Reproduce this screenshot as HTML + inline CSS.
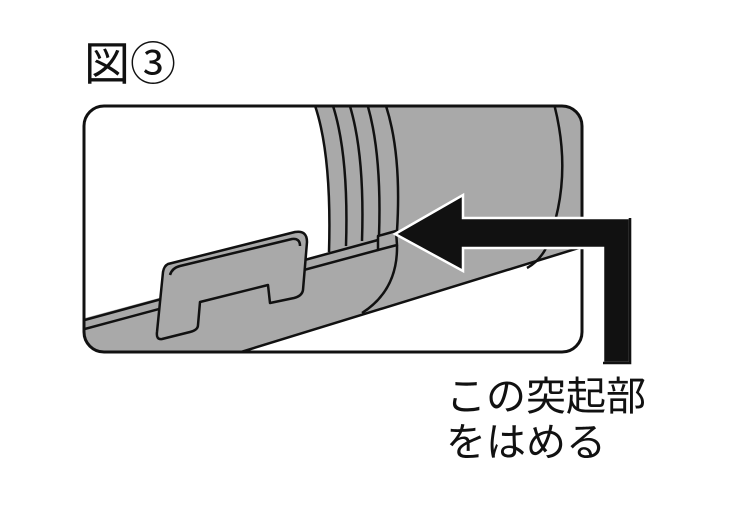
<!DOCTYPE html>
<html><head><meta charset="utf-8"><style>
html,body{margin:0;padding:0;background:#fff;width:735px;height:509px;overflow:hidden}
</style></head><body>
<svg width="735" height="509" viewBox="0 0 735 509" xmlns="http://www.w3.org/2000/svg">
<defs><clipPath id="c"><rect x="84" y="106" width="498" height="246" rx="20"/></clipPath></defs>
<g clip-path="url(#c)" stroke="#111" stroke-width="2.5" stroke-linejoin="round" fill="none">
  <path d="M313 100 Q332 150 329 252 L70 322 L70 365 L215 360 L582 247 L600 241 L600 100 Z" fill="#a9a9a9" stroke="none"/>
  <path d="M313 100 Q332 150 329 252"/>
  <path d="M331 100 Q349 150 346 246"/>
  <path d="M348 100 Q365 150 362 241"/>
  <path d="M366 100 Q382 150 379 236"/>
  <path d="M384 100 Q402 150 397 231"/>
  <path d="M553 100 Q575 180 545 250 Q538 262 527 268"/>
  <path d="M70 324 L378 240"/>
  <path d="M70 333 L378 250"/>
  <path d="M378 236 L378 250 L397 245 L396 231 Z" fill="#a9a9a9"/>
  <path d="M397 245 Q398 290 362 313"/>
  <path d="M215 360 L582 247"/>
  <path d="M168 264 L295 232 Q307 230 307 242 L303 290 Q302 296 294 298 L270 303 L268 285 L200 302 L198 325 Q198 330 190 332 L162 339 Q156 340 157 332 L163 272 Q164 266 168 264 Z" fill="#a9a9a9"/>
  <path d="M170 275 Q172 268 180 266 L292 239 Q300 238 300 246"/>
</g>
<rect x="84" y="106" width="498" height="246" rx="20" fill="none" stroke="#111" stroke-width="3"/>
<path d="M395 234 L463 195 L463 218 L630 218 L630 363 L603 363 L603 248 L463 248 L463 271 Z" fill="#111" stroke="#fff" stroke-width="2.5"/>
<path d="M603 363 L630 363 L630 218" fill="none" stroke="#111" stroke-width="2.6"/>
<g font-family="'Liberation Sans','Noto Sans CJK JP',sans-serif" fill="#111">
<text x="84" y="80" font-size="46">図③</text>
<text x="446" y="410" font-size="40">この突起部</text>
<text x="446" y="456" font-size="40">をはめる</text>
</g>
</svg>
</body></html>
